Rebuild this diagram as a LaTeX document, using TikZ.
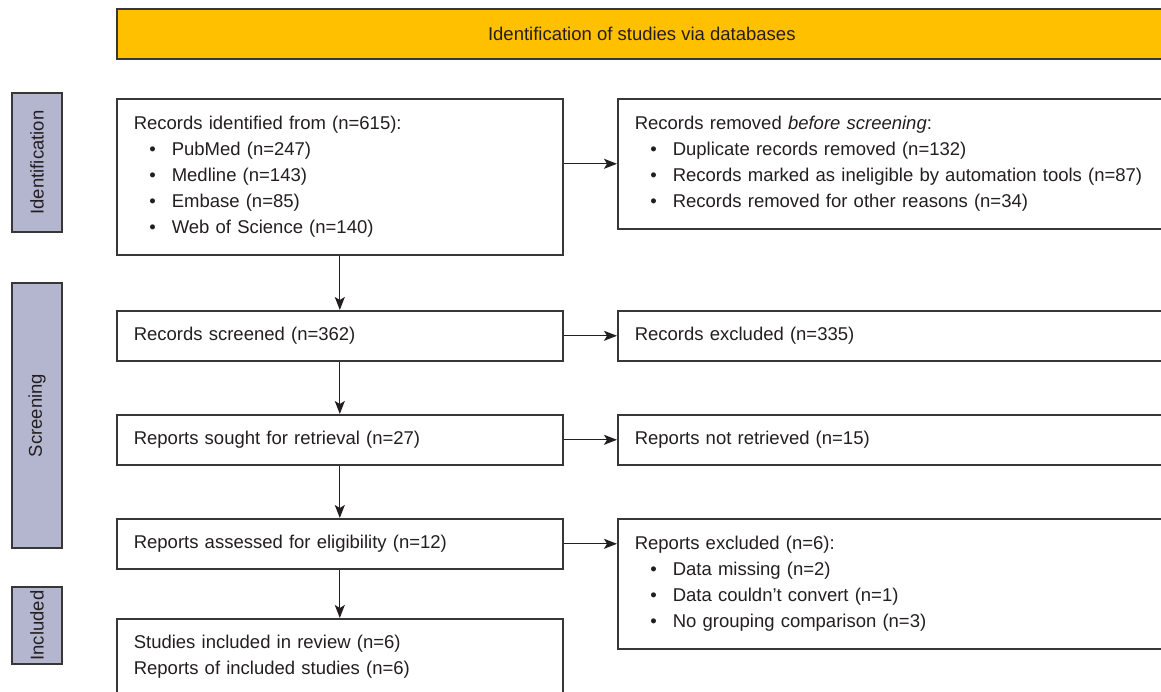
\documentclass[tikz,border=0pt]{standalone}
\usepackage{fontspec}
\setmainfont{Liberation Sans}
\usetikzlibrary{arrows.meta,calc}
\definecolor{bannerfill}{RGB}{255,192,0}
\definecolor{sidefill}{RGB}{180,181,207}
\definecolor{edge}{RGB}{55,55,55}
\definecolor{ink}{RGB}{35,31,32}
\newcommand{\bitem}[1]{\makebox[38pt][l]{\hspace*{15.5pt}\textbullet}#1}
\begin{document}
\begin{tikzpicture}[x=1pt,y=-1pt,
  txt/.style={font=\fontsize{18.5}{26}\selectfont, text=ink},
  box/.style={txt, draw=edge, line width=1.6pt, fill=white, anchor=north west,
    inner xsep=17pt, inner ysep=0pt, align=left},
  leftbox/.style={box, text width=412pt},
  rightbox/.style={box, text width=515pt},
  sidebox/.style={txt, draw=edge, line width=1.6pt, fill=sidefill, rotate=90,
    minimum height=50pt, inner sep=0pt},
  banner/.style={txt, draw=edge, line width=1.6pt, fill=bannerfill, anchor=north west,
    minimum width=1050pt, minimum height=50pt, inner sep=0pt},
  arr/.style={-{Stealth[length=13pt,width=10pt,inset=3pt]}, line width=1.3pt, draw=ink}]
\useasboundingbox (0,0) rectangle (1161,692);
\clip (0,0) rectangle (1161,692);

\node[banner] (top) at (116,8) {Identification of studies via databases};

\node[sidebox, minimum width=139pt] (s1) at (37,162.5) {Identification};
\node[sidebox, minimum width=265pt] (s2) at (37,415.5) {Screening};
\node[sidebox, minimum width=77pt] (s3) at (37,625.5) {Included};

\node[leftbox, minimum height=156pt] (b1) at (116,98) {Records identified from (n=615):\\
\bitem{PubMed (n=247)}\\
\bitem{Medline (n=143)}\\
\bitem{Embase (n=85)}\\
\bitem{Web of Science (n=140)}};
\node[leftbox, minimum height=50pt] (b2) at (116,310) {Records screened (n=362)};
\node[leftbox, minimum height=50pt] (b3) at (116,414) {Reports sought for retrieval (n=27)};
\node[leftbox, minimum height=50pt] (b4) at (116,518) {Reports assessed for eligibility (n=12)};
\node[leftbox, minimum height=76pt] (b5) at (116,618) {Studies included in review (n=6)\\
Reports of included studies (n=6)};

\node[rightbox, minimum height=130pt] (r1) at (617,98) {Records removed \textit{before screening}:\\
\bitem{Duplicate records removed (n=132)}\\
\bitem{Records marked as ineligible by automation tools (n=87)}\\
\bitem{Records removed for other reasons (n=34)}};
\node[rightbox, minimum height=50pt] (r2) at (617,310) {Records excluded (n=335)};
\node[rightbox, minimum height=50pt] (r3) at (617,414) {Reports not retrieved (n=15)};
\node[rightbox, minimum height=130pt] (r4) at (617,518) {Reports excluded (n=6):\\
\bitem{Data missing (n=2)}\\
\bitem{Data couldn’t convert (n=1)}\\
\bitem{No grouping comparison (n=3)}};

\draw[arr] (b1.south) -- (b2.north);
\draw[arr] (b2.south) -- (b3.north);
\draw[arr] (b3.south) -- (b4.north);
\draw[arr] (b4.south) -- (b5.north);

\draw[arr] (b1.east |- r1.west) -- (r1.west);
\draw[arr] (b2.east) -- (r2.west);
\draw[arr] (b3.east) -- (r3.west);
\draw[arr] (b4.east) -- (b4.east -| r4.west);
\end{tikzpicture}
\end{document}
